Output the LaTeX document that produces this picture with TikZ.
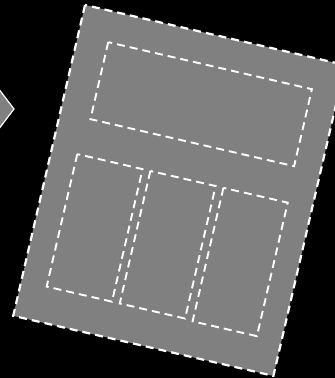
\documentclass[tikz,border=0pt]{standalone}
\begin{document}
\begin{tikzpicture}[x=1pt,y=-1pt,
  sheet/.style={fill=gray50,draw=white,line width=2.2pt,dash pattern=on 8pt off 5pt},
  slot/.style={draw=white,line width=1.9pt,dash pattern=on 8pt off 5pt},
  pointer/.style={fill=gray50,draw=white,line width=1.2pt,line join=miter}]
\colorlet{gray50}{black!50}
\useasboundingbox (0,0) rectangle (335,378);
\fill[black] (0,0) rectangle (335,378);
% left pointer (partially visible)
\coordinate (pl) at (-40,109);
\coordinate (pt) at (-5,84);
\coordinate (pr) at (14,109);
\coordinate (pb) at (-5,134);
\filldraw[pointer] (pl) -- (pt) -- (pr) -- (pb) -- cycle;
% rotated sheet
\begin{scope}[shift={(85,5)},rotate=-13]
  \draw[sheet] (0,0) rectangle (267,319);
  \draw[slot] (31,31) rectangle (240,110);
  \draw[slot] (26,147) rectangle (93,283);
  \draw[slot] (101,147) rectangle (168,283);
  \draw[slot] (176,147) rectangle (242,284);
\end{scope}
\end{tikzpicture}
\end{document}
